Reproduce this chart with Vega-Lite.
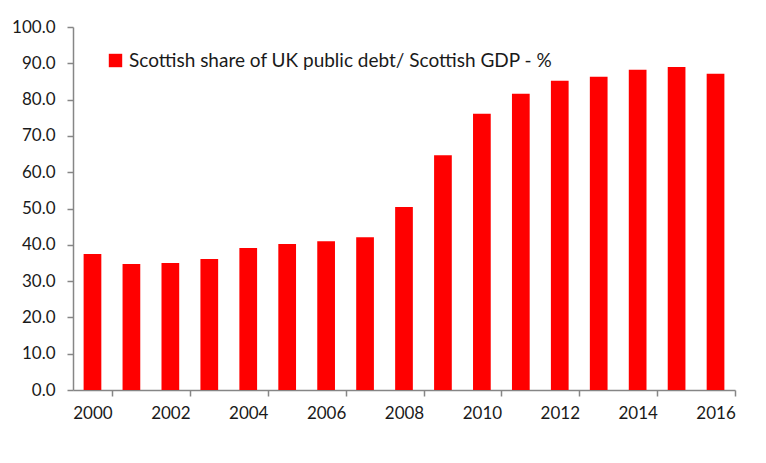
{
  "$schema": "https://vega.github.io/schema/vega-lite/v6.json",
  "autosize": {"type": "none"},
  "padding": {"left": 73, "top": 27, "right": 31, "bottom": 73},
  "width": 662,
  "height": 363,
  "background": "white",
  "config": {
    "view": {"stroke": null},
    "font": "Lato"
  },
  "data": {
    "values": [
      {"year": "2000", "series": "Scottish share of UK public debt/ Scottish GDP - %", "value": 37.5},
      {"year": "2001", "series": "Scottish share of UK public debt/ Scottish GDP - %", "value": 34.7},
      {"year": "2002", "series": "Scottish share of UK public debt/ Scottish GDP - %", "value": 35.0},
      {"year": "2003", "series": "Scottish share of UK public debt/ Scottish GDP - %", "value": 36.1},
      {"year": "2004", "series": "Scottish share of UK public debt/ Scottish GDP - %", "value": 39.1},
      {"year": "2005", "series": "Scottish share of UK public debt/ Scottish GDP - %", "value": 40.2},
      {"year": "2006", "series": "Scottish share of UK public debt/ Scottish GDP - %", "value": 41.0},
      {"year": "2007", "series": "Scottish share of UK public debt/ Scottish GDP - %", "value": 42.1},
      {"year": "2008", "series": "Scottish share of UK public debt/ Scottish GDP - %", "value": 50.4},
      {"year": "2009", "series": "Scottish share of UK public debt/ Scottish GDP - %", "value": 64.7},
      {"year": "2010", "series": "Scottish share of UK public debt/ Scottish GDP - %", "value": 76.1},
      {"year": "2011", "series": "Scottish share of UK public debt/ Scottish GDP - %", "value": 81.6},
      {"year": "2012", "series": "Scottish share of UK public debt/ Scottish GDP - %", "value": 85.2},
      {"year": "2013", "series": "Scottish share of UK public debt/ Scottish GDP - %", "value": 86.3},
      {"year": "2014", "series": "Scottish share of UK public debt/ Scottish GDP - %", "value": 88.2},
      {"year": "2015", "series": "Scottish share of UK public debt/ Scottish GDP - %", "value": 89.0},
      {"year": "2016", "series": "Scottish share of UK public debt/ Scottish GDP - %", "value": 87.1}
    ]
  },
  "mark": {"type": "bar"},
  "encoding": {
    "x": {
      "field": "year",
      "type": "ordinal",
      "scale": {"paddingInner": 0.545, "paddingOuter": 0.2725},
      "axis": {
        "title": null,
        "values": ["2000", "2002", "2004", "2006", "2008", "2010", "2012", "2014", "2016"],
        "labelAngle": 0,
        "labelFontSize": 17,
        "labelColor": "#1a1a1a",
        "labelPadding": 9,
        "tickOffset": 19.5,
        "labelOffset": -19.5,
        "tickSize": 6,
        "tickColor": "#868686",
        "domainColor": "#868686",
        "domainWidth": 1.5,
        "tickWidth": 1.5
      }
    },
    "y": {
      "field": "value",
      "type": "quantitative",
      "scale": {"domain": [0, 100], "nice": false},
      "axis": {
        "title": null,
        "values": [0, 10, 20, 30, 40, 50, 60, 70, 80, 90, 100],
        "format": ".1f",
        "grid": false,
        "labelFontSize": 17,
        "labelColor": "#1a1a1a",
        "labelPadding": 12,
        "tickSize": 6,
        "tickColor": "#868686",
        "domainColor": "#868686",
        "domainWidth": 1.5,
        "tickWidth": 1.5
      }
    },
    "color": {
      "field": "series",
      "type": "nominal",
      "scale": {"range": ["#FF0000"]},
      "legend": {
        "title": null,
        "orient": "none",
        "legendX": 33,
        "legendY": 24,
        "symbolType": "square",
        "symbolSize": 180,
        "symbolOpacity": 1,
        "labelFontSize": 19,
        "labelColor": "#1a1a1a",
        "labelLimit": 650,
        "labelOffset": 4
      }
    }
  }
}
